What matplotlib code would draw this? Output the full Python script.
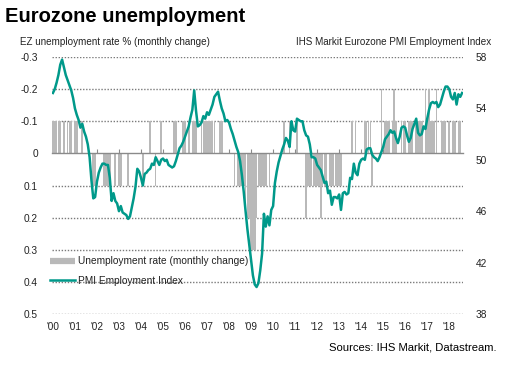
import numpy as np
import matplotlib
matplotlib.use("Agg")
import matplotlib.pyplot as plt
from matplotlib.lines import Line2D

plt.rcParams['font.family'] = ['Liberation Sans', 'DejaVu Sans']

# ---- data (monthly, Jan 2000 - Aug 2018) ----
pmi_2000 = [55.2, 55.5, 56.0, 56.6, 57.4, 57.8, 57.2, 56.6, 56.2, 55.8, 55.4, 54.8]
pmi_2001 = [54.0, 53.5, 53.1, 52.5, 52.8, 52.2, 51.8, 51.2, 50.2, 48.4, 47.0, 47.1]
pmi_2002 = [48.3, 49.0, 49.4, 49.7, 49.7, 49.6, 49.6, 48.6, 46.8, 47.4, 46.8, 46.6]
pmi_2003 = [46.0, 46.4, 45.9, 45.8, 45.7, 45.4, 45.6, 46.3, 47.0, 47.9, 49.3, 49.1]
pmi_2004 = [48.6, 48.0, 48.9, 49.0, 49.2, 49.3, 49.7, 49.6, 50.2, 49.9, 49.6, 50.0]
pmi_2005 = [50.1, 49.9, 50.0, 49.6, 49.5, 49.4, 49.5, 49.9, 50.4, 50.9, 51.1, 51.4]
pmi_2006 = [51.8, 52.2, 52.6, 53.3, 53.9, 55.4, 53.8, 52.6, 52.7, 52.9, 53.4, 53.2]
pmi_2007 = [53.7, 53.5, 53.9, 54.3, 54.9, 55.1, 55.3, 54.6, 54.0, 53.6, 53.0, 53.1]
pmi_2008 = [52.9, 52.4, 52.0, 51.5, 51.0, 50.6, 49.9, 48.8, 47.5, 46.0, 44.6, 43.4]
pmi_2009 = [42.2, 41.0, 40.3, 40.1, 40.4, 41.4, 42.7, 45.8, 44.8, 45.6, 44.9, 46.1]
pmi_2010 = [46.4, 48.2, 49.1, 49.8, 50.3, 50.8, 51.2, 51.7, 51.5, 51.0, 53.0, 52.3]
pmi_2011 = [52.2, 53.2, 53.1, 53.0, 53.0, 52.3, 51.9, 51.8, 51.2, 50.2, 50.2, 50.1]
pmi_2012 = [49.6, 49.4, 49.2, 48.7, 48.2, 48.3, 47.4, 47.6, 46.5, 47.1, 47.1, 47.0]
pmi_2013 = [47.3, 46.1, 47.4, 47.5, 47.3, 47.4, 48.6, 48.5, 49.7, 49.0, 48.8, 49.7]
pmi_2014 = [50.0, 50.1, 50.0, 50.8, 50.9, 50.9, 50.4, 50.2, 50.1, 49.9, 50.2, 50.6]
pmi_2015 = [51.0, 51.6, 51.8, 52.0, 52.3, 52.1, 52.2, 51.7, 51.3, 51.8, 52.5, 52.6]
pmi_2016 = [52.5, 51.9, 51.4, 51.7, 52.4, 52.8, 53.2, 52.1, 51.9, 52.0, 52.6, 52.4]
pmi_2017 = [53.2, 53.9, 54.4, 54.5, 54.4, 54.5, 54.1, 54.3, 54.8, 55.3, 55.7, 55.7]
pmi_2018 = [55.5, 54.9, 54.7, 55.2, 54.3, 55.1, 54.9, 55.2]

unemp_2000 = [-0.1, -0.1, -0.1, -0.1, -0.1, 0, -0.1, 0, -0.1, -0.1, -0.1, 0]
unemp_2001 = [-0.1, -0.1, 0, 0, -0.1, 0, 0, 0, 0, 0, 0.1, 0.1]
unemp_2002 = [0, 0, 0, 0, 0.1, 0.1, 0.1, 0.1, 0, 0, 0.1, 0]
unemp_2003 = [0.1, 0.1, 0, 0, 0, 0.1, 0, 0, 0, 0, 0, 0]
unemp_2004 = [0, 0.1, 0, 0, 0, -0.1, 0, 0, 0.1, 0, 0, -0.1]
unemp_2005 = [0, 0, 0, 0, 0, 0, -0.1, -0.1, 0, 0, 0, -0.1]
unemp_2006 = [-0.1, 0, -0.1, 0, -0.1, -0.1, -0.1, 0, 0, -0.1, -0.1, -0.1]
unemp_2007 = [-0.1, -0.1, -0.1, -0.1, -0.1, 0, 0, -0.1, -0.1, 0, 0, 0]
unemp_2008 = [0, 0, 0, 0.1, 0, 0.1, 0.1, 0.1, 0.1, 0.2, 0.2, 0.2]
unemp_2009 = [0.3, 0.3, 0.3, 0.2, 0.1, 0.1, 0.1, 0.1, 0.1, 0, 0.1, 0]
unemp_2010 = [0, 0, 0, 0, 0, 0, -0.1, 0, 0, -0.1, 0, 0]
unemp_2011 = [0, -0.1, 0, 0, 0, 0, 0.2, 0.1, 0.1, 0.1, 0.1, 0.1]
unemp_2012 = [0.1, 0.1, 0.2, 0.1, 0.1, 0.1, 0, 0.1, 0.1, 0.1, 0.1, 0.1]
unemp_2013 = [0.1, 0.1, 0, 0, 0, 0, 0, -0.1, 0, -0.1, 0, 0]
unemp_2014 = [0, 0, -0.1, -0.1, -0.1, -0.1, 0.1, 0, 0, 0, 0, -0.2]
unemp_2015 = [0, -0.1, -0.1, -0.1, 0, -0.1, -0.2, -0.1, 0, 0, -0.1, -0.1]
unemp_2016 = [-0.1, 0, -0.1, -0.1, -0.1, 0, -0.1, -0.1, -0.1, -0.1, 0, -0.2]
unemp_2017 = [-0.1, -0.2, -0.1, -0.1, -0.1, -0.2, 0, 0, -0.1, -0.1, -0.1, 0]
unemp_2018 = [-0.1, 0, -0.1, -0.1, 0, -0.1, -0.1, 0]

year_labels = ["'00", "'01", "'02", "'03", "'04", "'05", "'06", "'07", "'08", "'09",
               "'10", "'11", "'12", "'13", "'14", "'15", "'16", "'17", "'18"]
left_ticks = [-0.3, -0.2, -0.1, 0, 0.1, 0.2, 0.3, 0.4, 0.5]
left_labels = ["-0.3", "-0.2", "-0.1", "0", "0.1", "0.2", "0.3", "0.4", "0.5"]
right_ticks = [38, 42, 46, 50, 54, 58]

pmi = np.array(pmi_2000 + pmi_2001 + pmi_2002 + pmi_2003 + pmi_2004 + pmi_2005 +
               pmi_2006 + pmi_2007 + pmi_2008 + pmi_2009 + pmi_2010 + pmi_2011 +
               pmi_2012 + pmi_2013 + pmi_2014 + pmi_2015 + pmi_2016 + pmi_2017 + pmi_2018)
unemp = np.array(unemp_2000 + unemp_2001 + unemp_2002 + unemp_2003 + unemp_2004 +
                 unemp_2005 + unemp_2006 + unemp_2007 + unemp_2008 + unemp_2009 +
                 unemp_2010 + unemp_2011 + unemp_2012 + unemp_2013 + unemp_2014 +
                 unemp_2015 + unemp_2016 + unemp_2017 + unemp_2018)
months = np.arange(len(pmi))

BAR = '#B9B9B9'
LINE = '#00998A'
TXT = '#222222'

fig = plt.figure(figsize=(5.12, 3.69), dpi=100)
ax = fig.add_axes([52/512, 1-314/369, (463-52)/512, (314-57)/369])
ax.set_facecolor('none')

ax.bar(months, unemp, width=0.9, color=BAR, linewidth=0, zorder=2)
ax.set_ylim(0.5, -0.3)
ax.set_xlim(-0.5, 223.5)
ax.set_yticks(left_ticks)
ax.set_yticklabels(left_labels)
for t in left_ticks:
    if t != 0:
        ax.axhline(t, color='#7a7a7a', lw=1.0, ls=(0, (1, 1.2)), zorder=1)

for s in ['top', 'right', 'left']:
    ax.spines[s].set_visible(False)
ax.spines['bottom'].set_position(('data', 0))
ax.spines['bottom'].set_color('#8a8a8a')
ax.spines['bottom'].set_linewidth(1.0)
ax.spines['bottom'].set_zorder(3)
ax.set_xticks(months[::12])
ax.tick_params(axis='x', direction='in', length=3, color='#8a8a8a', labelbottom=False)
ax.tick_params(axis='y', length=0, pad=10, labelsize=7.3, labelcolor=TXT)

sec = ax.secondary_xaxis('bottom')
sec.set_xticks(months[::12])
sec.set_xticklabels(year_labels)
sec.tick_params(length=0, pad=6, labelsize=7.2, labelcolor=TXT)
sec.spines['bottom'].set_visible(False)

ax2 = ax.twinx()
ax2.plot(months, pmi, color=LINE, lw=1.8, zorder=4)
ax2.set_ylim(38, 58)
ax2.set_yticks(right_ticks)
for s in ['top', 'right', 'left', 'bottom']:
    ax2.spines[s].set_visible(False)
ax2.tick_params(axis='y', length=0, pad=9, labelsize=7.3, labelcolor=TXT)

handles = [Line2D([], [], color=BAR, lw=4.5, solid_capstyle='butt'),
           Line2D([], [], color=LINE, lw=1.8)]
ax2.legend(handles, ['Unemployment rate (monthly change)', 'PMI Employment Index'],
           loc='upper left', bbox_to_anchor=(-0.005, 0.225), frameon=False,
           fontsize=7.3, handlelength=2.5, handletextpad=0.25, labelspacing=0.95,
           borderaxespad=0, borderpad=0, labelcolor=TXT)

fig.text(5/512, 1-17/369, 'Eurozone unemployment', fontsize=14.5, fontweight='bold',
         ha='left', va='center', color='black')
fig.text(20/512, 1-42/369, 'EZ unemployment rate % (monthly change)', fontsize=7.1,
         ha='left', va='center', color=TXT)
fig.text(491/512, 1-42/369, 'IHS Markit Eurozone PMI Employment Index', fontsize=7.1,
         ha='right', va='center', color=TXT)
fig.text(497/512, 1-347/369, 'Sources: IHS Markit, Datastream.', fontsize=8.1,
         ha='right', va='center', color='black')

fig.savefig('out.png', dpi=100)
